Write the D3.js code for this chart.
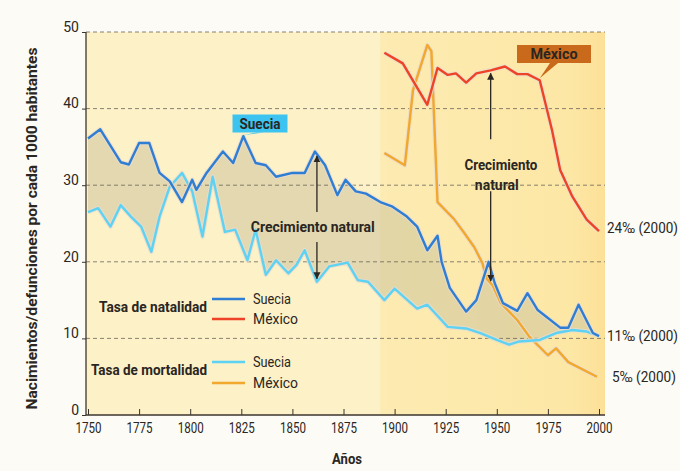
<!DOCTYPE html>
<html>
<head>
<meta charset="utf-8">
<script src="https://cdn.jsdelivr.net/npm/d3@7"></script>
<style>
  body { margin: 0; background: #fcfbf6; }
  svg text { font-family: Roboto, 'Noto Sans', sans-serif; fill: #2a2622; }
  .tick text { font-size: 14px; }
  .bold { font-weight: bold; }
</style>
</head>
<body>
<script>
// ---- data ----
const yTicks = [0, 10, 20, 30, 40, 50];
const xTicks = [1750, 1775, 1800, 1825, 1850, 1875, 1900, 1925, 1950, 1975, 2000];

const sweBirthYears = [1750, 1756, 1766, 1770, 1775, 1780, 1785, 1790, 1796, 1801, 1803, 1808, 1816, 1821, 1826, 1832, 1837, 1842, 1850, 1856, 1861, 1866, 1872, 1876, 1881, 1886, 1893, 1899, 1906, 1911, 1916, 1921, 1923, 1927, 1935, 1940, 1946, 1949, 1953, 1960, 1965, 1970, 1981, 1985, 1990, 1997, 2000];
const sweBirths     = [36.1, 37.3, 33.0, 32.7, 35.5, 35.5, 31.6, 30.5, 27.8, 30.7, 29.4, 31.6, 34.4, 32.9, 36.4, 32.9, 32.6, 31.1, 31.6, 31.6, 34.4, 32.6, 28.7, 30.7, 29.2, 28.9, 27.8, 27.2, 25.9, 24.6, 21.5, 23.4, 20.0, 16.6, 13.5, 15.0, 20.0, 17.2, 14.6, 13.6, 15.9, 13.7, 11.4, 11.4, 14.4, 10.7, 10.3];

const sweDeathYears = [1750, 1755, 1761, 1766, 1771, 1776, 1781, 1785, 1790, 1796, 1801, 1806, 1811, 1817, 1822, 1828, 1832, 1837, 1842, 1848, 1852, 1856, 1862, 1868, 1877, 1882, 1887, 1895, 1900, 1911, 1916, 1926, 1935, 1942, 1950, 1956, 1961, 1971, 1979, 1987, 1994, 2000];
const sweDeaths     = [26.5, 27.0, 24.6, 27.4, 25.9, 24.6, 21.3, 25.9, 29.8, 31.6, 29.2, 23.3, 31.1, 23.9, 24.2, 20.2, 24.2, 18.3, 20.2, 18.5, 19.6, 21.5, 17.4, 19.4, 19.9, 17.6, 17.4, 15.0, 16.5, 13.9, 14.4, 11.5, 11.3, 10.7, 9.8, 9.2, 9.6, 9.8, 10.7, 11.1, 10.9, 10.3];

const mexBirthYears = [1895, 1904, 1916, 1921, 1926, 1930, 1935, 1940, 1947, 1954, 1960, 1965, 1971, 1977, 1981, 1987, 1994, 2000];
const mexBirths     = [47.3, 45.9, 40.5, 45.3, 44.4, 44.6, 43.4, 44.6, 45.0, 45.5, 44.5, 44.5, 43.7, 37.2, 32.0, 28.5, 25.5, 24.0];

const mexDeathYears = [1895, 1905, 1909, 1916, 1918, 1921, 1929, 1934, 1939, 1943, 1945, 1948, 1952, 1960, 1966, 1975, 1979, 1985, 1999];
const mexDeaths     = [34.2, 32.6, 42.4, 48.3, 47.5, 27.8, 25.6, 23.8, 21.9, 19.8, 17.8, 16.9, 14.6, 12.4, 10.2, 7.8, 8.7, 6.9, 5.0];

const endLabels = [
  { text: '24‰ (2000)', value: 24.4, dx: 2, len: 71 },
  { text: '11‰ (2000)', value: 10.3, dx: 2, len: 71 },
  { text: '5‰ (2000)',  value: 4.9,  dx: 7, len: 64 }
];

const COLORS = {
  sweBirth: '#2f7ed3',
  sweDeath: '#5ed2f2',
  mexBirth: '#ee4326',
  mexDeath: '#f2a72d'
};

// ---- layout ----
const W = 680, H = 471;
const plot = { left: 86, right: 605, top: 32, bottom: 415 };

const svg = d3.select('body').append('svg')
  .attr('width', W)
  .attr('height', H);

const x = d3.scaleLinear().domain([1750, 2000]).range([88, 599]);
const y = d3.scaleLinear().domain([0, 50]).range([plot.bottom, plot.top]);

// squeeze text to the condensed widths of the original
const fit = (sel, len) => sel.attr('textLength', len).attr('lengthAdjust', 'spacingAndGlyphs');

const zip = (xs, ys) => xs.map((d, i) => [d, ys[i]]);
const sweB = zip(sweBirthYears, sweBirths);
const sweD = zip(sweDeathYears, sweDeaths);
const mexB = zip(mexBirthYears, mexBirths);
const mexD = zip(mexDeathYears, mexDeaths);

// background
const defs = svg.append('defs');
const grad = defs.append('linearGradient').attr('id', 'mexbg');
grad.append('stop').attr('offset', '0%').attr('stop-color', '#fcebb2');
grad.append('stop').attr('offset', '85%').attr('stop-color', '#fde7a5');
grad.append('stop').attr('offset', '100%').attr('stop-color', '#fce097');

svg.append('rect')
  .attr('x', plot.left).attr('y', plot.top)
  .attr('width', plot.right - plot.left).attr('height', plot.bottom - plot.top)
  .attr('fill', '#fdf1c8');

svg.append('rect')
  .attr('x', x(1893)).attr('y', plot.top)
  .attr('width', plot.right - x(1893)).attr('height', plot.bottom - plot.top)
  .attr('fill', 'url(#mexbg)');

// natural growth area for Sweden (births forward, deaths back)
const line = d3.line().x(d => x(d[0])).y(d => y(d[1]));
svg.append('path')
  .attr('d', line(sweB.concat(sweD.slice().reverse())) + 'Z')
  .attr('fill', '#d2c89f')
  .attr('fill-opacity', 0.6);

// grid
svg.append('g')
  .selectAll('line')
  .data(yTicks.filter(d => d > 0))
  .join('line')
  .attr('x1', plot.left).attr('x2', plot.right)
  .attr('y1', d => y(d)).attr('y2', d => y(d))
  .attr('stroke', '#6b645a')
  .attr('stroke-width', 0.8)
  .attr('stroke-dasharray', '4,3');

// axes
const yAxis = svg.append('g')
  .attr('transform', `translate(${plot.left},0)`)
  .call(d3.axisLeft(y).tickValues(yTicks).tickSize(4).tickPadding(3));
yAxis.select('.domain').attr('stroke', '#3b352e').attr('stroke-width', 1.3)
  .attr('d', `M0,${plot.top}V${plot.bottom}`);
yAxis.selectAll('.tick line').attr('stroke', '#3b352e');
yAxis.selectAll('.tick text').attr('dy', '-0.05em').attr('font-size', 14);

const xAxis = svg.append('g')
  .attr('transform', `translate(0,${plot.bottom})`)
  .call(d3.axisBottom(x).tickValues(xTicks).tickFormat(d3.format('d')).tickSize(-6).tickPadding(8));
xAxis.select('.domain').attr('stroke', '#3b352e').attr('stroke-width', 1.3)
  .attr('d', `M${plot.left},0H${plot.right}`);
xAxis.selectAll('.tick line').attr('stroke', '#3b352e');
fit(xAxis.selectAll('.tick text').attr('font-size', 14), 26);

// axis titles
fit(svg.append('text')
  .attr('class', 'bold')
  .attr('transform', `translate(37,${(plot.top + plot.bottom) / 2 + 5}) rotate(-90)`)
  .attr('text-anchor', 'middle')
  .attr('font-size', 14)
  .text('Nacimientos/defunciones por cada 1000 habitantes'), 362);

fit(svg.append('text')
  .attr('class', 'bold')
  .attr('x', 347).attr('y', 464)
  .attr('text-anchor', 'middle')
  .attr('font-size', 14)
  .text('Años'), 30);

// series
const series = [
  { pts: mexD, color: COLORS.mexDeath },
  { pts: mexB, color: COLORS.mexBirth },
  { pts: sweD, color: COLORS.sweDeath },
  { pts: sweB, color: COLORS.sweBirth }
];
series.forEach(s => {
  svg.append('path').attr('d', line(s.pts))
    .attr('fill', 'none').attr('stroke', '#e9dccd').attr('stroke-width', 4.5)
    .attr('stroke-linejoin', 'round').attr('opacity', 0.8);
  svg.append('path').attr('d', line(s.pts))
    .attr('fill', 'none').attr('stroke', s.color).attr('stroke-width', 2.4)
    .attr('stroke-linejoin', 'round');
});

// arrows
const marker = defs.append('marker')
  .attr('id', 'arrow')
  .attr('viewBox', '0 0 10 10')
  .attr('refX', 9).attr('refY', 5)
  .attr('markerWidth', 7).attr('markerHeight', 9)
  .attr('markerUnits', 'userSpaceOnUse')
  .attr('orient', 'auto');
marker.append('path').attr('d', 'M0,0L10,5L0,10Z').attr('fill', '#2a2622');

function arrow(x0, y0, y1) {
  svg.append('line')
    .attr('x1', x(x0)).attr('x2', x(x0))
    .attr('y1', y(y0)).attr('y2', y(y1))
    .attr('stroke', '#2a2622').attr('stroke-width', 1.3)
    .attr('marker-end', 'url(#arrow)');
}
// Sweden
arrow(1862, 26.5, 33.8);
arrow(1862, 22.6, 17.8);
fit(svg.append('text').attr('class', 'bold')
  .attr('x', x(1860)).attr('y', y(24.6) + 5)
  .attr('text-anchor', 'middle').attr('font-size', 14)
  .text('Crecimiento natural'), 124);
// Mexico
arrow(1947, 36, 44.6);
arrow(1947, 29.2, 17.5);
fit(svg.append('text').attr('class', 'bold')
  .attr('x', x(1952)).attr('y', y(32.6) + 5)
  .attr('text-anchor', 'middle').attr('font-size', 14)
  .text('Crecimiento'), 73);
fit(svg.append('text').attr('class', 'bold')
  .attr('x', x(1950)).attr('y', y(30) + 5)
  .attr('text-anchor', 'middle').attr('font-size', 14)
  .text('natural'), 44);

// callout labels
function callout(label, cx, cy, w, h, fill, tipX, tipY, len) {
  const g = svg.append('g');
  g.append('path')
    .attr('d', `M${cx - 4},${cy + h / 2}L${tipX},${tipY}L${cx + 4},${cy + h / 2}Z`)
    .attr('fill', fill);
  g.append('rect')
    .attr('x', cx - w / 2).attr('y', cy - h / 2)
    .attr('width', w).attr('height', h)
    .attr('fill', fill);
  fit(g.append('text').attr('class', 'bold')
    .attr('x', cx).attr('y', cy + 5)
    .attr('text-anchor', 'middle').attr('font-size', 14)
    .text(label), len);
}
callout('Suecia', 260, 123.5, 55, 18, '#3cc3f0', x(1826), y(36.4) - 1, 41);
callout('México', 554, 54, 74, 18, '#c8691c', x(1971), y(43.7) - 2, 47);

// legend
const legendRows = [
  { title: 'Tasa de natalidad', ty: 312, len: 108, items: [
    { label: 'Suecia', color: COLORS.sweBirth, y: 299, len: 38 },
    { label: 'México', color: COLORS.mexBirth, y: 319, len: 45 }
  ]},
  { title: 'Tasa de mortalidad', ty: 375, len: 116, items: [
    { label: 'Suecia', color: COLORS.sweDeath, y: 362, len: 38 },
    { label: 'México', color: COLORS.mexDeath, y: 383, len: 45 }
  ]}
];
legendRows.forEach(r => {
  fit(svg.append('text').attr('class', 'bold')
    .attr('x', 207).attr('y', r.ty)
    .attr('text-anchor', 'end').attr('font-size', 14.5)
    .text(r.title), r.len);
  r.items.forEach(it => {
    svg.append('line')
      .attr('x1', 212).attr('x2', 245)
      .attr('y1', it.y).attr('y2', it.y)
      .attr('stroke', it.color).attr('stroke-width', 2.6);
    fit(svg.append('text')
      .attr('x', 253).attr('y', it.y + 5)
      .attr('font-size', 15)
      .text(it.label), it.len);
  });
});

// end labels
svg.append('g')
  .selectAll('text')
  .data(endLabels)
  .join('text')
  .attr('x', d => plot.right + d.dx)
  .attr('y', d => y(d.value) + 5)
  .attr('font-size', 14)
  .attr('textLength', d => d.len)
  .attr('lengthAdjust', 'spacingAndGlyphs')
  .text(d => d.text);
</script>
</body>
</html>
